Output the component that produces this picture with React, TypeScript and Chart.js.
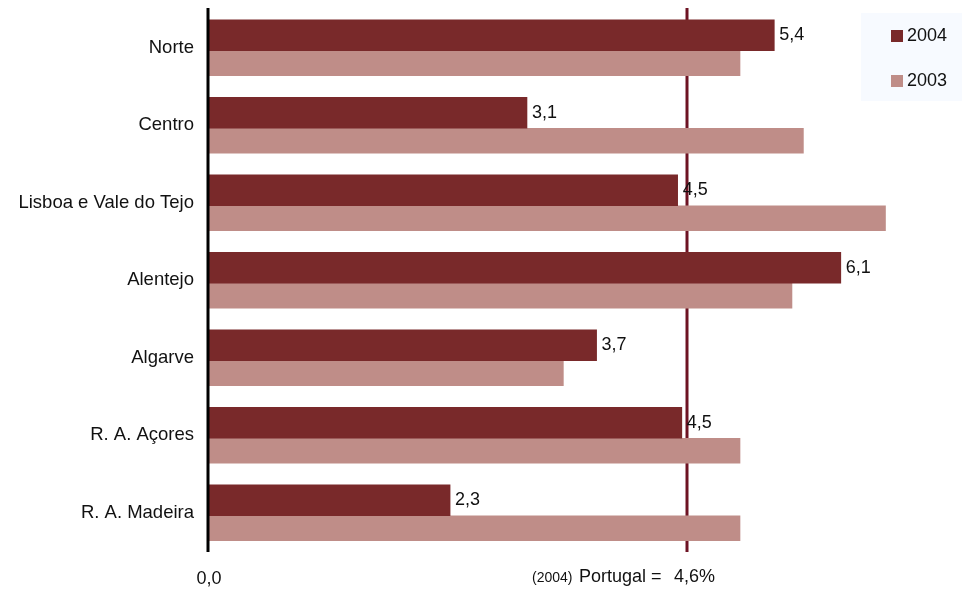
import React, { useEffect, useRef } from "react";
import { Chart, registerables } from "chart.js";

Chart.register(...registerables);

const categories = [
  "Norte",
  "Centro",
  "Lisboa e Vale do Tejo",
  "Alentejo",
  "Algarve",
  "R. A. Açores",
  "R. A. Madeira",
];
const values2004 = [5.44, 3.06, 4.51, 6.08, 3.73, 4.55, 2.32];
const labels2004 = ["5,4", "3,1", "4,5", "6,1", "3,7", "4,5", "2,3"];
const values2003 = [5.11, 5.72, 6.51, 5.61, 3.41, 5.11, 5.11];
const portugalValue = 4.6;
const portugalLabel = "4,6%";
const zeroLabel = "0,0";
const seriesNames = ["2004", "2003"];

const C2004 = "#79292a";
const C2003 = "#bf8d88";
const LINE = "#6d1323";
const FONT = '"Liberation Sans", Arial, sans-serif';

export default function App() {
  const ref = useRef<HTMLCanvasElement>(null);
  useEffect(() => {
    if (!ref.current) return;
    const overlay = {
      id: "overlay",
      beforeDatasetsDraw(chart: any) {
        const ctx = chart.ctx;
        const x = chart.scales.x.getPixelForValue(portugalValue);
        ctx.save();
        ctx.strokeStyle = LINE;
        ctx.lineWidth = 3;
        ctx.beginPath();
        ctx.moveTo(x, 8);
        ctx.lineTo(x, 552);
        ctx.stroke();
        ctx.restore();
      },
      afterDatasetsDraw(chart: any) {
        const ctx = chart.ctx;
        const xs = chart.scales.x;
        ctx.save();
        // y axis line
        ctx.strokeStyle = "#000";
        ctx.lineWidth = 3;
        ctx.beginPath();
        ctx.moveTo(208, 8);
        ctx.lineTo(208, 552);
        ctx.stroke();
        // data labels for 2004
        const meta = chart.getDatasetMeta(0);
        ctx.fillStyle = "#111";
        ctx.font = `18px ${FONT}`;
        ctx.textAlign = "left";
        ctx.textBaseline = "middle";
        meta.data.forEach((bar: any, i: number) => {
          ctx.fillText(labels2004[i], bar.x + 5, bar.y);
        });
        // bottom labels
        const x0 = xs.getPixelForValue(0);
        const xl = xs.getPixelForValue(portugalValue);
        ctx.textBaseline = "alphabetic";
        ctx.textAlign = "center";
        ctx.fillText(zeroLabel, x0, 584);
        ctx.textAlign = "left";
        ctx.font = `14px ${FONT}`;
        ctx.fillText("(2004)", xl - 155, 582);
        ctx.font = `18px ${FONT}`;
        ctx.fillText("Portugal =", xl - 108, 582);
        ctx.fillText(portugalLabel, xl - 13, 582);
        // legend
        ctx.fillStyle = "#f7faff";
        ctx.fillRect(861, 13, 101, 88);
        const colors = [C2004, C2003];
        const ys = [36, 81];
        seriesNames.forEach((n, i) => {
          ctx.fillStyle = colors[i];
          ctx.fillRect(891, ys[i] - 6, 12, 12);
          ctx.fillStyle = "#111";
          ctx.textBaseline = "middle";
          ctx.fillText(n, 907, ys[i]);
        });
        ctx.restore();
      },
    };
    const chart = new Chart(ref.current, {
      type: "bar",
      data: {
        labels: categories,
        datasets: [
          {
            label: seriesNames[0],
            data: values2004,
            backgroundColor: C2004,
            barThickness: 31,
          },
          {
            label: seriesNames[1],
            data: values2003,
            backgroundColor: C2003,
            barThickness: 25,
          },
        ],
      },
      options: {
        indexAxis: "y",
        animation: false,
        responsive: true,
        maintainAspectRatio: false,
        layout: { padding: { left: 0, right: 25.6, top: 12, bottom: 37.5 } },
        plugins: {
          legend: { display: false },
          tooltip: { enabled: false },
        },
        scales: {
          x: {
            display: false,
            min: 0,
            max: 7,
          },
          y: {
            afterFit(scale: any) {
              scale.width = 209;
              scale.paddingTop = 0;
              scale.paddingBottom = 0;
            },
            grid: { display: false, drawTicks: false },
            border: { display: false },
            ticks: {
              padding: 15,
              labelOffset: -3,
              color: "#111",
              font: { family: FONT, size: 18.5 },
            },
          },
        },
      },
      plugins: [overlay],
    });
    return () => chart.destroy();
  }, []);
  return (
    <div style={{ position: "fixed", left: 0, top: 0, width: 962, height: 592, background: "#fff" }}>
      <canvas ref={ref} />
    </div>
  );
}
